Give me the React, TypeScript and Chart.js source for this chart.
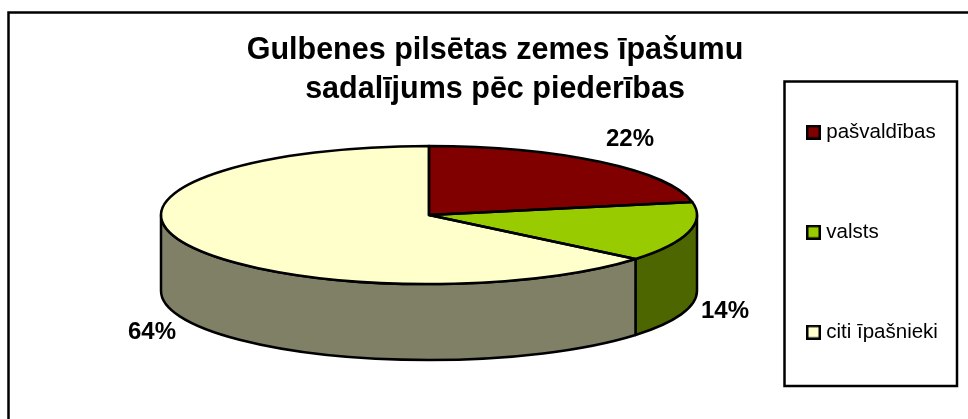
import React, { useEffect, useRef } from "react";
import { Chart, registerables } from "chart.js";

Chart.register(...registerables);

const titleLines = ["Gulbenes pilsētas zemes īpašumu", "sadalījums pēc piederības"];
const categories = ["pašvaldības", "valsts", "citi īpašnieki"];
const shares = [22, 14, 64];
const topColors = ["#800000", "#99CC00", "#FFFFCC"];
const sideColors = ["#400000", "#4D6600", "#808066"];
const labelSpots: [number, number][] = [[630, 139], [725, 311], [152, 332]];

const FONT = "'Liberation Sans', Arial, sans-serif";
const CX = 429, CY = 215, RX = 268, RY = 69, DEPTH = 76;
const LEGEND_PAD = 79.5;
const LINE = 2.5;

function swatch(color: string) {
  const s = document.createElement("canvas");
  s.width = 15;
  s.height = 15;
  const g = s.getContext("2d")!;
  g.fillStyle = color;
  g.fillRect(0, 0, 15, 15);
  g.strokeStyle = "#000";
  g.lineWidth = 2.5;
  g.strokeRect(1.25, 1.25, 12.5, 12.5);
  return s;
}

const pie3d = {
  id: "pie3d",
  beforeDraw(chart: any) {
    const c = chart.ctx;
    c.save();
    c.strokeStyle = "#000";
    c.lineWidth = LINE;
    // sheet frame, cut by the picture's right and bottom edges
    c.beginPath();
    c.moveTo(968, 12.5);
    c.lineTo(8.5, 12.5);
    c.lineTo(8.5, 419);
    c.stroke();
    // legend frame
    c.strokeRect(784.5, 81.5, 172.5, 304.5);
    c.restore();
  },
  afterLayout(chart: any) {
    const l = chart.legend;
    l.left = 811 - LEGEND_PAD;
    l.right = 968;
    l.top = 122 - LEGEND_PAD;
    l.bottom = 1000;
    chart.titleBlock.left = 22;
    chart.titleBlock.right = 968;
  },
  beforeDatasetsDraw(chart: any) {
    const c = chart.ctx;
    const arcs = chart.getDatasetMeta(0).data;
    c.save();
    c.lineWidth = LINE;
    c.strokeStyle = "#000";
    c.lineJoin = "round";
    arcs.forEach((a: any, i: number) => {
      const s = Math.max(a.startAngle, 0);
      const e = Math.min(a.endAngle, Math.PI);
      if (e <= s) return;
      c.beginPath();
      c.ellipse(CX, CY, RX, RY, 0, s, e);
      c.lineTo(CX + RX * Math.cos(e), CY + RY * Math.sin(e) + DEPTH);
      c.ellipse(CX, CY + DEPTH, RX, RY, 0, e, s, true);
      c.closePath();
      c.fillStyle = sideColors[i];
      c.fill();
      c.stroke();
    });
    c.restore();
    const a0 = arcs[0];
    const R = a0.outerRadius;
    c.save();
    c.translate(CX, CY);
    c.scale(RX / R, RY / R);
    c.translate(-a0.x, -a0.y);
  },
  afterDatasetsDraw(chart: any) {
    const c = chart.ctx;
    c.restore();
    const arcs = chart.getDatasetMeta(0).data;
    c.save();
    c.lineWidth = LINE;
    c.strokeStyle = "#000";
    c.lineJoin = "round";
    arcs.forEach((a: any) => {
      c.beginPath();
      c.moveTo(CX, CY);
      c.ellipse(CX, CY, RX, RY, 0, a.startAngle, a.endAngle);
      c.closePath();
      c.stroke();
    });
    c.fillStyle = "#000";
    c.font = `bold 24px ${FONT}`;
    c.textAlign = "center";
    c.textBaseline = "middle";
    shares.forEach((v, i) => c.fillText(`${v}%`, labelSpots[i][0], labelSpots[i][1]));
    c.restore();
  },
};

export default function App() {
  const ref = useRef<HTMLCanvasElement>(null);
  useEffect(() => {
    const chart = new Chart(ref.current!, {
      type: "pie",
      data: {
        labels: categories,
        datasets: [
          { data: shares, backgroundColor: topColors, borderWidth: 0, clip: false } as any,
        ],
      },
      options: {
        responsive: false,
        animation: false,
        layout: { padding: 0 },
        plugins: {
          tooltip: { enabled: false },
          title: {
            display: true,
            fullSize: false,
            text: titleLines,
            color: "#000",
            font: { family: FONT, size: 30.5, weight: "bold", lineHeight: 1.28 },
            padding: { top: 31, bottom: 0 },
          },
          legend: {
            position: "right",
            align: "start",
            labels: {
              usePointStyle: true,
              pointStyleWidth: 5,
              padding: LEGEND_PAD,
              color: "#000",
              font: { family: FONT, size: 20.5 },
              generateLabels: () =>
                categories.map((text, i) => ({
                  text,
                  fillStyle: topColors[i],
                  strokeStyle: "#000",
                  lineWidth: 0,
                  pointStyle: swatch(topColors[i]),
                  hidden: false,
                  index: i,
                })),
            },
          },
        },
      } as any,
      plugins: [pie3d],
    });
    return () => chart.destroy();
  }, []);
  return (
    <canvas
      ref={ref}
      width={968}
      height={419}
      style={{ position: "fixed", left: 0, top: 0, display: "block", width: 968, height: 419 }}
    />
  );
}
